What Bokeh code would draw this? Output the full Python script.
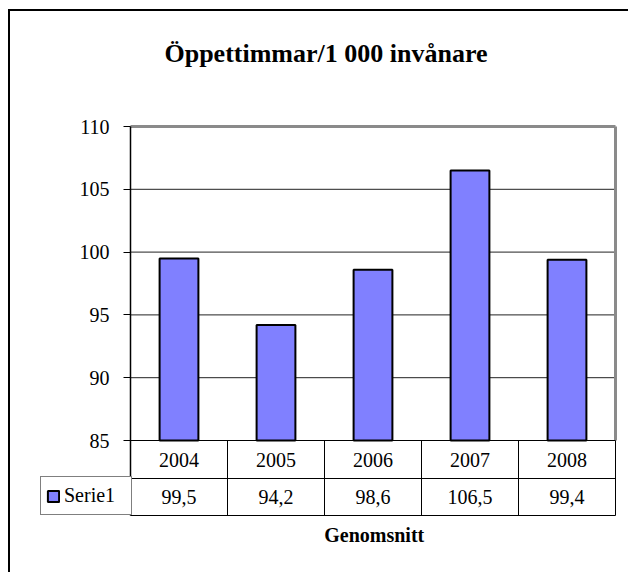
from bokeh.plotting import figure
from bokeh.models import Range1d, FixedTicker, Label, Legend, LegendItem
from bokeh.core.properties import value
from bokeh.embed import file_html
from bokeh.resources import INLINE

# ---------------- data ----------------
title_text = "Öppettimmar/1 000 invånare"
x_title = "Genomsnitt"
series_name = "Serie1"
years = ["2004", "2005", "2006", "2007", "2008"]
values = [99.5, 94.2, 98.6, 106.5, 99.4]
y_ticks = [85, 90, 95, 100, 105, 110]
grid_ticks = [90, 95, 100, 105]
y_min, y_max = 85, 110

# ---------------- layout (page pixels) ----------------
CX, CY = 10, 11          # canvas origin on page (margin + 2px css border)
W, H = 620, 563
F_L, F_R, F_T, F_B = 38, CX + W, CY, CY + H   # frame edges
AX_X = 130
PLOT_TOP, PLOT_BOT = 126, 440
ROW_DIV, TABLE_BOT = 478, 515
LEG_LEFT = 40
COL = 97.0
ppu = (PLOT_BOT - PLOT_TOP) / (y_max - y_min)


def yd(py):
    return y_min + (PLOT_BOT - py) / ppu


def xd(px):
    return (px - AX_X) / COL


n = len(years)
xs = [i + 0.5 for i in range(n)]
value_labels = [f"{v:.1f}".replace(".", ",") for v in values]
FONT = "Liberation Serif"

p = figure(width=W, height=H,
           x_range=Range1d(xd(F_L), xd(F_R)), y_range=Range1d(yd(F_B), yd(F_T)),
           output_backend="svg", toolbar_location=None, x_axis_location=None,
           min_border_left=F_L - CX, min_border_right=0,
           min_border_top=0, min_border_bottom=0,
           outline_line_color=None, background_fill_color="white",
           border_fill_color="white",
           styles={"margin-left": "8px", "margin-top": "9px",
                   "border-left": "2px solid black", "border-top": "2px solid black"})

# grids
for g in p.xgrid:
    g.visible = False
p.ygrid.visible = False
p.segment(x0=[0] * len(grid_ticks), y0=grid_ticks, x1=[n] * len(grid_ticks), y1=grid_ticks,
          line_color="#222222", line_width=1)

# y axis at the left edge of the plot area
ax = p.yaxis[0]
ax.fixed_location = 0
ax.ticker = FixedTicker(ticks=y_ticks)
ax.axis_line_color = None
ax.major_tick_line_color = "black"
ax.major_tick_out = 7
ax.major_tick_in = 0
ax.minor_tick_line_color = None
ax.major_label_text_font = FONT
ax.major_label_text_font_size = "20px"
ax.major_label_text_color = "black"
ax.major_label_standoff = 14

# plot-area border (gray, top and right)
p.segment(x0=[0, n], y0=[y_max, y_min], x1=[n, n], y1=[y_max, y_max],
          line_color="#8a8a8a", line_width=3)

# bars
bars = p.vbar(x=xs, top=values, bottom=y_min, width=0.4,
              fill_color="#8080FF", line_color="black", line_width=2)

# axis line, baseline and data table lines
p.segment(x0=[0], y0=[yd(TABLE_BOT)], x1=[0], y1=[y_max], line_color="black", line_width=1.5)
h_y = [y_min, yd(ROW_DIV), yd(TABLE_BOT)]
p.segment(x0=[0] * 3, y0=h_y, x1=[n] * 3, y1=h_y, line_color="black", line_width=1)
v_x = list(range(1, n + 1))
p.segment(x0=v_x, y0=[yd(TABLE_BOT)] * n, x1=v_x, y1=[y_min] * n,
          line_color="black", line_width=1)

# table texts
row1 = yd((PLOT_BOT + ROW_DIV) / 2)
row2 = yd((ROW_DIV + TABLE_BOT) / 2)
p.text(x=xs, y=[row1] * n, text=years, text_font=value(FONT), text_font_size="20px",
       text_align="center", text_baseline="middle", text_color="black")
p.text(x=xs, y=[row2] * n, text=value_labels, text_font=value(FONT), text_font_size="20px",
       text_align="center", text_baseline="middle", text_color="black")

# legend cell of the data table
legend = Legend(items=[LegendItem(label=series_name, renderers=[bars])],
                location=(LEG_LEFT - F_L, F_B - TABLE_BOT),
                border_line_color="black", border_line_width=1,
                background_fill_color="white", background_fill_alpha=1,
                padding=5, margin=0, spacing=0,
                glyph_width=14, glyph_height=14, label_standoff=4,
                label_width=62, label_height=27,
                label_text_font=FONT, label_text_font_size="20px",
                label_text_color="black")
p.add_layout(legend)

# title and category title
p.add_layout(Label(x=xd(325.5), y=yd(53), text=title_text, text_font=FONT,
                   text_font_style="bold", text_font_size="26px",
                   text_align="center", text_baseline="middle", text_color="black"))
p.add_layout(Label(x=xd(373.7), y=yd(534), text=x_title, text_font=FONT,
                   text_font_style="bold", text_font_size="20px",
                   text_align="center", text_baseline="middle", text_color="black"))

open("out.html", "w").write(file_html(p, INLINE))
